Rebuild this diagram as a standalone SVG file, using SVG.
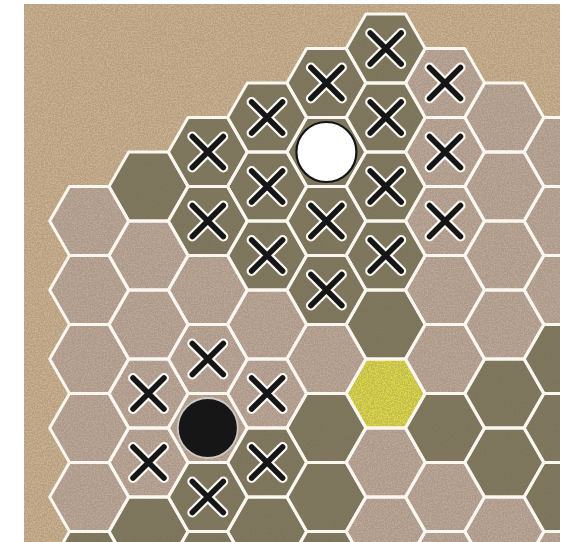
<svg xmlns="http://www.w3.org/2000/svg" xmlns:xlink="http://www.w3.org/1999/xlink" width="565" height="542" viewBox="0 0 565 542">
<style>
.L{fill:#bba698}
.D{fill:#7c755a}
.Y{fill:#dcd744}
.o{fill:none;stroke:#faf7f0;stroke-width:3;stroke-linejoin:round}
.xw{stroke:#fbf9f4;stroke-width:10;stroke-linecap:round;fill:none}
.xb{stroke:#161616;stroke-width:5.5;stroke-linecap:round;fill:none}
</style>
<defs>
<polygon id="hx" points="-39.5,0 -19.75,-34.5 19.75,-34.5 39.5,0 19.75,34.5 -19.75,34.5"/>
<g id="xm"><path class="xw" d="M-15.5,-15.5L15.5,15.5M15.5,-15.5L-15.5,15.5"/><path class="xb" d="M-15.5,-15.5L15.5,15.5M15.5,-15.5L-15.5,15.5"/></g>
<clipPath id="board"><rect x="24" y="4" width="536" height="538"/></clipPath>
<filter id="grain" x="0" y="0" width="100%" height="100%">
<feTurbulence type="fractalNoise" baseFrequency="0.7" numOctaves="2" seed="7" result="n"/>
<feColorMatrix in="n" type="matrix" values="0 0 0 0 0.25  0 0 0 0 0.2  0 0 0 0 0.15  0 0 0 -5 3.1"/>
</filter>
</defs>
<rect width="565" height="542" fill="#ffffff"/>
<g clip-path="url(#board)">
<rect id="background" x="24" y="4" width="536" height="538" fill="#cbb08d"/>
<g id="cells">
<g id="h-0-221"><use xlink:href="#hx" x="89.2" y="221" class="L"/></g>
<g id="h-0-290"><use xlink:href="#hx" x="89.2" y="290" class="L"/></g>
<g id="h-0-359"><use xlink:href="#hx" x="89.2" y="359" class="L"/></g>
<g id="h-0-428"><use xlink:href="#hx" x="89.2" y="428" class="L"/></g>
<g id="h-0-497"><use xlink:href="#hx" x="89.2" y="497" class="L"/></g>
<g id="h-0-566"><use xlink:href="#hx" x="89.2" y="566" class="D"/></g>
<g id="h-1-186"><use xlink:href="#hx" x="148.5" y="186.5" class="D"/></g>
<g id="h-1-255"><use xlink:href="#hx" x="148.5" y="255.5" class="L"/></g>
<g id="h-1-324"><use xlink:href="#hx" x="148.5" y="324.5" class="L"/></g>
<g id="h-1-393"><use xlink:href="#hx" x="148.5" y="393.5" class="L"/></g>
<g id="h-1-462"><use xlink:href="#hx" x="148.5" y="462.5" class="L"/></g>
<g id="h-1-531"><use xlink:href="#hx" x="148.5" y="531.5" class="D"/></g>
<g id="h-2-152"><use xlink:href="#hx" x="207.8" y="152" class="D"/></g>
<g id="h-2-221"><use xlink:href="#hx" x="207.8" y="221" class="D"/></g>
<g id="h-2-290"><use xlink:href="#hx" x="207.8" y="290" class="L"/></g>
<g id="h-2-359"><use xlink:href="#hx" x="207.8" y="359" class="L"/></g>
<g id="h-2-428"><use xlink:href="#hx" x="207.8" y="428" class="L"/></g>
<g id="h-2-497"><use xlink:href="#hx" x="207.8" y="497" class="D"/></g>
<g id="h-2-566"><use xlink:href="#hx" x="207.8" y="566" class="D"/></g>
<g id="h-3-117"><use xlink:href="#hx" x="267.1" y="117.5" class="D"/></g>
<g id="h-3-186"><use xlink:href="#hx" x="267.1" y="186.5" class="D"/></g>
<g id="h-3-255"><use xlink:href="#hx" x="267.1" y="255.5" class="D"/></g>
<g id="h-3-324"><use xlink:href="#hx" x="267.1" y="324.5" class="L"/></g>
<g id="h-3-393"><use xlink:href="#hx" x="267.1" y="393.5" class="L"/></g>
<g id="h-3-462"><use xlink:href="#hx" x="267.1" y="462.5" class="D"/></g>
<g id="h-3-531"><use xlink:href="#hx" x="267.1" y="531.5" class="D"/></g>
<g id="h-4-83"><use xlink:href="#hx" x="326.4" y="83" class="D"/></g>
<g id="h-4-152"><use xlink:href="#hx" x="326.4" y="152" class="D"/></g>
<g id="h-4-221"><use xlink:href="#hx" x="326.4" y="221" class="D"/></g>
<g id="h-4-290"><use xlink:href="#hx" x="326.4" y="290" class="D"/></g>
<g id="h-4-359"><use xlink:href="#hx" x="326.4" y="359" class="L"/></g>
<g id="h-4-428"><use xlink:href="#hx" x="326.4" y="428" class="D"/></g>
<g id="h-4-497"><use xlink:href="#hx" x="326.4" y="497" class="D"/></g>
<g id="h-4-566"><use xlink:href="#hx" x="326.4" y="566" class="D"/></g>
<g id="h-5-48"><use xlink:href="#hx" x="385.7" y="48.5" class="D"/></g>
<g id="h-5-117"><use xlink:href="#hx" x="385.7" y="117.5" class="D"/></g>
<g id="h-5-186"><use xlink:href="#hx" x="385.7" y="186.5" class="D"/></g>
<g id="h-5-255"><use xlink:href="#hx" x="385.7" y="255.5" class="D"/></g>
<g id="h-5-324"><use xlink:href="#hx" x="385.7" y="324.5" class="D"/></g>
<g id="h-5-393"><use xlink:href="#hx" x="385.7" y="393.5" class="Y"/></g>
<g id="h-5-462"><use xlink:href="#hx" x="385.7" y="462.5" class="L"/></g>
<g id="h-5-531"><use xlink:href="#hx" x="385.7" y="531.5" class="L"/></g>
<g id="h-6-83"><use xlink:href="#hx" x="445" y="83" class="L"/></g>
<g id="h-6-152"><use xlink:href="#hx" x="445" y="152" class="L"/></g>
<g id="h-6-221"><use xlink:href="#hx" x="445" y="221" class="L"/></g>
<g id="h-6-290"><use xlink:href="#hx" x="445" y="290" class="L"/></g>
<g id="h-6-359"><use xlink:href="#hx" x="445" y="359" class="L"/></g>
<g id="h-6-428"><use xlink:href="#hx" x="445" y="428" class="D"/></g>
<g id="h-6-497"><use xlink:href="#hx" x="445" y="497" class="L"/></g>
<g id="h-6-566"><use xlink:href="#hx" x="445" y="566" class="L"/></g>
<g id="h-7-117"><use xlink:href="#hx" x="504.3" y="117.5" class="L"/></g>
<g id="h-7-186"><use xlink:href="#hx" x="504.3" y="186.5" class="L"/></g>
<g id="h-7-255"><use xlink:href="#hx" x="504.3" y="255.5" class="L"/></g>
<g id="h-7-324"><use xlink:href="#hx" x="504.3" y="324.5" class="L"/></g>
<g id="h-7-393"><use xlink:href="#hx" x="504.3" y="393.5" class="D"/></g>
<g id="h-7-462"><use xlink:href="#hx" x="504.3" y="462.5" class="D"/></g>
<g id="h-7-531"><use xlink:href="#hx" x="504.3" y="531.5" class="L"/></g>
<g id="h-8-152"><use xlink:href="#hx" x="563.6" y="152" class="L"/></g>
<g id="h-8-221"><use xlink:href="#hx" x="563.6" y="221" class="L"/></g>
<g id="h-8-290"><use xlink:href="#hx" x="563.6" y="290" class="L"/></g>
<g id="h-8-359"><use xlink:href="#hx" x="563.6" y="359" class="D"/></g>
<g id="h-8-428"><use xlink:href="#hx" x="563.6" y="428" class="D"/></g>
<g id="h-8-497"><use xlink:href="#hx" x="563.6" y="497" class="D"/></g>
<g id="h-8-566"><use xlink:href="#hx" x="563.6" y="566" class="L"/></g>
</g>
<rect id="grain-overlay" x="24" y="4" width="536" height="538" filter="url(#grain)" opacity="0.3"/>
<g id="cell-outlines" class="o">
<use xlink:href="#hx" x="89.2" y="221"/><use xlink:href="#hx" x="89.2" y="290"/><use xlink:href="#hx" x="89.2" y="359"/><use xlink:href="#hx" x="89.2" y="428"/><use xlink:href="#hx" x="89.2" y="497"/><use xlink:href="#hx" x="89.2" y="566"/>
<use xlink:href="#hx" x="148.5" y="186.5"/><use xlink:href="#hx" x="148.5" y="255.5"/><use xlink:href="#hx" x="148.5" y="324.5"/><use xlink:href="#hx" x="148.5" y="393.5"/><use xlink:href="#hx" x="148.5" y="462.5"/><use xlink:href="#hx" x="148.5" y="531.5"/>
<use xlink:href="#hx" x="207.8" y="152"/><use xlink:href="#hx" x="207.8" y="221"/><use xlink:href="#hx" x="207.8" y="290"/><use xlink:href="#hx" x="207.8" y="359"/><use xlink:href="#hx" x="207.8" y="428"/><use xlink:href="#hx" x="207.8" y="497"/><use xlink:href="#hx" x="207.8" y="566"/>
<use xlink:href="#hx" x="267.1" y="117.5"/><use xlink:href="#hx" x="267.1" y="186.5"/><use xlink:href="#hx" x="267.1" y="255.5"/><use xlink:href="#hx" x="267.1" y="324.5"/><use xlink:href="#hx" x="267.1" y="393.5"/><use xlink:href="#hx" x="267.1" y="462.5"/><use xlink:href="#hx" x="267.1" y="531.5"/>
<use xlink:href="#hx" x="326.4" y="83"/><use xlink:href="#hx" x="326.4" y="152"/><use xlink:href="#hx" x="326.4" y="221"/><use xlink:href="#hx" x="326.4" y="290"/><use xlink:href="#hx" x="326.4" y="359"/><use xlink:href="#hx" x="326.4" y="428"/><use xlink:href="#hx" x="326.4" y="497"/><use xlink:href="#hx" x="326.4" y="566"/>
<use xlink:href="#hx" x="385.7" y="48.5"/><use xlink:href="#hx" x="385.7" y="117.5"/><use xlink:href="#hx" x="385.7" y="186.5"/><use xlink:href="#hx" x="385.7" y="255.5"/><use xlink:href="#hx" x="385.7" y="324.5"/><use xlink:href="#hx" x="385.7" y="393.5"/><use xlink:href="#hx" x="385.7" y="462.5"/><use xlink:href="#hx" x="385.7" y="531.5"/>
<use xlink:href="#hx" x="445" y="83"/><use xlink:href="#hx" x="445" y="152"/><use xlink:href="#hx" x="445" y="221"/><use xlink:href="#hx" x="445" y="290"/><use xlink:href="#hx" x="445" y="359"/><use xlink:href="#hx" x="445" y="428"/><use xlink:href="#hx" x="445" y="497"/><use xlink:href="#hx" x="445" y="566"/>
<use xlink:href="#hx" x="504.3" y="117.5"/><use xlink:href="#hx" x="504.3" y="186.5"/><use xlink:href="#hx" x="504.3" y="255.5"/><use xlink:href="#hx" x="504.3" y="324.5"/><use xlink:href="#hx" x="504.3" y="393.5"/><use xlink:href="#hx" x="504.3" y="462.5"/><use xlink:href="#hx" x="504.3" y="531.5"/>
<use xlink:href="#hx" x="563.6" y="152"/><use xlink:href="#hx" x="563.6" y="221"/><use xlink:href="#hx" x="563.6" y="290"/><use xlink:href="#hx" x="563.6" y="359"/><use xlink:href="#hx" x="563.6" y="428"/><use xlink:href="#hx" x="563.6" y="497"/><use xlink:href="#hx" x="563.6" y="566"/>
</g>
</g>
<g id="marks">
<g id="x-5-48"><use xlink:href="#xm" x="385.7" y="48.5"/></g>
<g id="x-4-83"><use xlink:href="#xm" x="326.4" y="83"/></g>
<g id="x-6-83"><use xlink:href="#xm" x="445" y="83"/></g>
<g id="x-3-117"><use xlink:href="#xm" x="267.1" y="117.5"/></g>
<g id="x-5-117"><use xlink:href="#xm" x="385.7" y="117.5"/></g>
<g id="x-2-152"><use xlink:href="#xm" x="207.8" y="152"/></g>
<g id="x-6-152"><use xlink:href="#xm" x="445" y="152"/></g>
<g id="x-3-186"><use xlink:href="#xm" x="267.1" y="186.5"/></g>
<g id="x-5-186"><use xlink:href="#xm" x="385.7" y="186.5"/></g>
<g id="x-2-221"><use xlink:href="#xm" x="207.8" y="221"/></g>
<g id="x-4-221"><use xlink:href="#xm" x="326.4" y="221"/></g>
<g id="x-6-221"><use xlink:href="#xm" x="445" y="221"/></g>
<g id="x-3-255"><use xlink:href="#xm" x="267.1" y="255.5"/></g>
<g id="x-5-255"><use xlink:href="#xm" x="385.7" y="255.5"/></g>
<g id="x-4-290"><use xlink:href="#xm" x="326.4" y="290"/></g>
<g id="x-2-359"><use xlink:href="#xm" x="207.8" y="359"/></g>
<g id="x-1-393"><use xlink:href="#xm" x="148.5" y="393.5"/></g>
<g id="x-3-393"><use xlink:href="#xm" x="267.1" y="393.5"/></g>
<g id="x-1-462"><use xlink:href="#xm" x="148.5" y="462.5"/></g>
<g id="x-3-462"><use xlink:href="#xm" x="267.1" y="462.5"/></g>
<g id="x-2-497"><use xlink:href="#xm" x="207.8" y="497"/></g>
<g id="white-stone"><circle cx="326.4" cy="152" r="30" fill="#ffffff" stroke="#141414" stroke-width="2.2"/></g>
<g id="black-stone"><circle cx="207.8" cy="428" r="30" fill="#161616" stroke="#cfcac4" stroke-width="1.8"/></g>
</g>
</svg>
